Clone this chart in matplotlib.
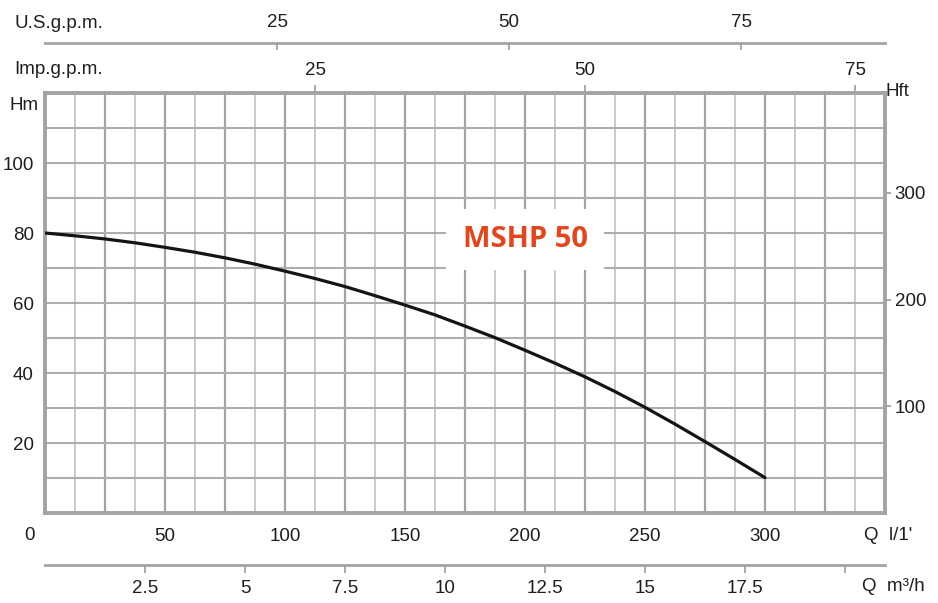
import numpy as np
import matplotlib
matplotlib.use("Agg")
import matplotlib.pyplot as plt

plt.rcParams['font.family'] = ['Liberation Sans', 'DejaVu Sans']

# pump curve (Q in l/min, H in m)
flow_lpm = [0, 12.5, 25, 37.5, 50, 62.5, 75, 87.5, 100, 112.5, 125, 137.5, 150,
            162.5, 175, 187.5, 200, 212.5, 225, 237.5, 250, 262.5, 275, 287.5, 300]
head_m = [80.0, 79.2, 78.3, 77.2, 75.9, 74.5, 72.9, 71.1, 69.1, 67.0, 64.7, 62.1, 59.4,
          56.6, 53.4, 50.1, 46.5, 42.8, 38.9, 34.7, 30.2, 25.4, 20.4, 15.3, 10.1]

title = "MSHP 50"
q_labels = [50, 100, 150, 200, 250, 300]
h_labels = [20, 40, 60, 80, 100]
hft_ticks = [100, 200, 300]
m3h_ticks = [2.5, 5, 7.5, 10, 12.5, 15, 17.5, 20]
m3h_labels = ["2.5", "5", "7.5", "10", "12.5", "15", "17.5", ""]
us_ticks = [25, 50, 75]
imp_ticks = [25, 50, 75]

# conversion factors as drawn on the chart
US_GPM = 3.867   # l/min per US gpm
IMP_GPM = 4.5    # l/min per Imp gpm
M3H = 1000 / 60  # l/min per m3/h
FT = 0.3048

grey = "#a3a3a3"
light = "#c6c6c6"
txt = "#1e1e1e"
fs = 13.5

fig = plt.figure(figsize=(9.38, 6.03), dpi=100)
ax = fig.add_axes([45 / 938, 90 / 603, 840 / 938, 420 / 603])

ax.set_xlim(0, 350)
ax.set_ylim(0, 120)

ax.set_xticks(np.arange(0, 351, 25))
ax.set_xticks(np.arange(12.5, 350, 25), minor=True)
ax.set_yticks(np.arange(0, 121, 10))
ax.xaxis.set_major_formatter(lambda v, p: f"{v:g}" if v in q_labels else "")
ax.yaxis.set_major_formatter(lambda v, p: f"{v:g}" if v in h_labels else "")
ax.tick_params(axis="both", which="both", length=0, labelsize=fs, labelcolor=txt)
ax.tick_params(axis="x", pad=11)
ax.tick_params(axis="y", pad=8)

ax.grid(True, which="major", axis="x", color=grey, lw=1.6)
ax.grid(True, which="minor", axis="x", color=light, lw=1.3)
ax.grid(True, which="major", axis="y", color="#aeaeae", lw=1.5)
ax.set_axisbelow(True)
for s in ax.spines.values():
    s.set_color(grey)
    s.set_linewidth(2.8)

ax.plot(flow_lpm, head_m, color="#141414", lw=2.3, solid_capstyle="round", zorder=3)

ax.text(200, 78.1, title, ha="center", va="center", fontsize=21, fontweight="bold",
        family=["Open Sans", "DejaVu Sans"], color="#e2461a", zorder=4,
        bbox=dict(boxstyle="square,pad=0.55", fc="white", ec="none"))

# Imp gpm on the top spine
imp = ax.secondary_xaxis("top", functions=(lambda q: q / IMP_GPM, lambda g: g * IMP_GPM))
imp.set_xticks(imp_ticks)
imp.tick_params(direction="out", length=6, width=1.3, color=grey, pad=4,
                labelsize=fs, labelcolor=txt)
imp.spines["top"].set_visible(False)

# US gpm line above
us = ax.secondary_xaxis(1.12, functions=(lambda q: q / US_GPM, lambda g: g * US_GPM))
us.set_xticks(us_ticks)
us.tick_params(direction="in", length=5, width=1.3, color=grey, pad=8,
               labelsize=fs, labelcolor=txt)
us.spines["top"].set_color(grey)
us.spines["top"].set_linewidth(2)

# m3/h line below
m3 = ax.secondary_xaxis(-0.124, functions=(lambda q: q / M3H, lambda v: v * M3H))
m3.set_alignment("bottom")
m3.set_xticks(m3h_ticks, m3h_labels)
m3.tick_params(direction="out", length=6, width=1.3, color=grey, pad=5,
               labelsize=fs, labelcolor=txt)
m3.spines["bottom"].set_color(grey)
m3.spines["bottom"].set_linewidth(2)

# Hft on the right
hft = ax.secondary_yaxis("right", functions=(lambda m: m / FT, lambda f: f * FT))
hft.set_yticks(hft_ticks)
hft.tick_params(direction="out", length=4, width=1.3, color=grey, pad=3,
                labelsize=fs, labelcolor=txt)
hft.spines["right"].set_visible(False)

tk = dict(fontsize=fs, color=txt, transform=ax.transAxes)
ax.text(-0.019, -0.054, "0", ha="center", va="center", **tk)
ax.text(1.004, -0.054, "Q  l/1'", ha="center", va="center", **tk)
ax.text(1.01, -0.175, "Q  m³/h", ha="center", va="center", **tk)
ax.text(1.001, 1.003, "Hft", ha="left", va="center", **tk)
ax.text(-0.007, 0.970, "Hm", ha="right", va="center", **tk)
fig.text(14 / 938, 1 - 24 / 603, "U.S.g.p.m.", ha="left", va="center", fontsize=fs, color=txt)
fig.text(14 / 938, 1 - 70 / 603, "Imp.g.p.m.", ha="left", va="center", fontsize=fs, color=txt)

fig.savefig("out.png", dpi=100)
